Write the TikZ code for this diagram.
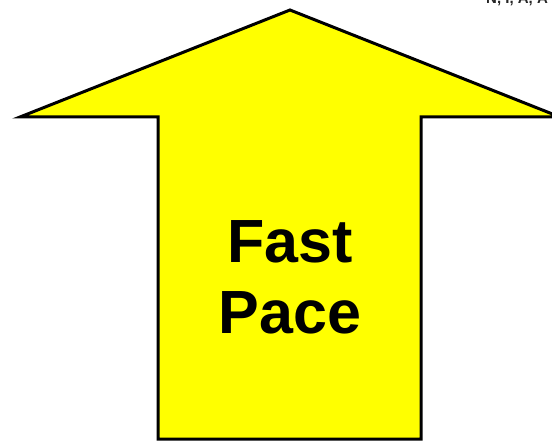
\documentclass[tikz,border=0pt]{standalone}
\usepackage{fontspec}
\setmainfont{Liberation Sans}
\definecolor{pureyellow}{RGB}{255,255,0}
\begin{document}
\begin{tikzpicture}[x=1pt,y=-1pt,
  arrowshape/.style={draw=black,fill=pureyellow,line width=3pt,line join=miter},
  bigtext/.style={font=\fontsize{61}{71}\selectfont\bfseries,align=center,inner sep=0pt},
  toptext/.style={font=\fontsize{15}{17}\selectfont\bfseries,anchor=base west,inner sep=0pt,text=black!85}]
\useasboundingbox (0,0) rectangle (552,441);
\clip (0,0) rectangle (552,441);
\draw[arrowshape] (290,10) -- (560,117) -- (421,117) -- (421,439) -- (158,439) -- (158,117) -- (20,117) -- cycle;
\node[bigtext] (t) at (290,277) {Fast\\Pace};
\node[toptext] (n) at (486,4) {N, I, A, A};
\end{tikzpicture}
\end{document}
